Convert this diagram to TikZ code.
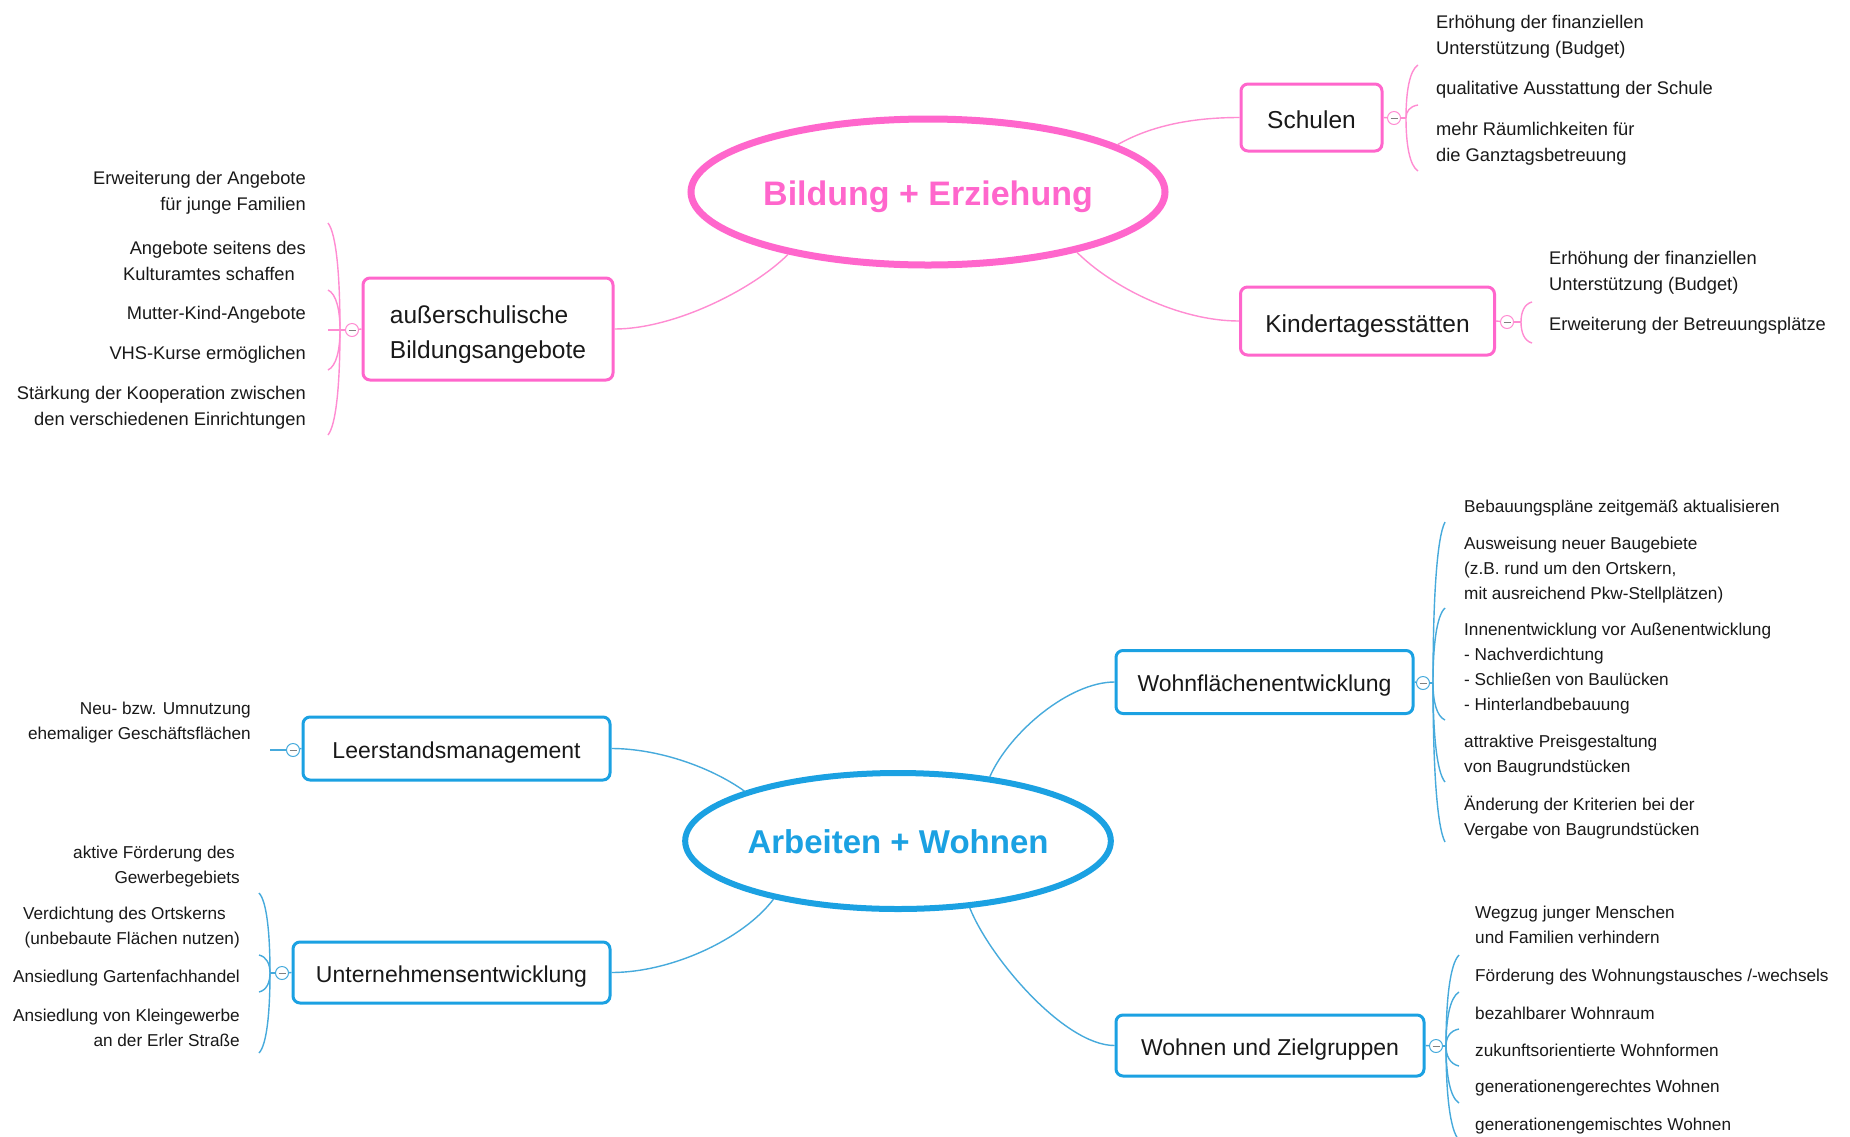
\documentclass[tikz,border=0pt]{standalone}
\usepackage{fontspec}
\setmainfont{Liberation Sans}
\usetikzlibrary{shapes.geometric}
\definecolor{pk}{RGB}{255,102,204}
\definecolor{pkl}{RGB}{255,140,210}
\definecolor{bl}{RGB}{27,161,226}
\definecolor{bll}{RGB}{70,170,220}
\definecolor{txt}{RGB}{25,25,25}
\newcommand\brk[5]{%
  \foreach \e in {#5} {\draw[#1] (#2,#3) .. controls (#2,{#3+0.5*(\e-#3)}) and ({#2+0.3*(#4-#2)},{\e-0.1*(\e-#3)}) .. (#4,\e);}}
\begin{document}
\begin{tikzpicture}[x=1pt,y=-1pt,
 topic/.style={ellipse, draw, line width=7pt, inner sep=0pt, fill=white, text depth=0pt},
 pbox/.style={draw=pk, rounded corners=7pt, line width=3pt, inner sep=0pt, font=\fontsize{24.5}{35}\selectfont, align=left, fill=white, text=txt},
 pbox1/.style={pbox, text height=22.4pt, text depth=0pt},
 bbox/.style={draw=bl, rounded corners=7pt, line width=3pt, inner sep=0pt, font=\fontsize{23}{31}\selectfont, align=left, fill=white, text=txt, text height=19.5pt, text depth=0pt},
 ptxt/.style={inner sep=0pt, font=\fontsize{18.3}{26}\selectfont, text=txt, yshift=-2.5pt},
 btxt/.style={inner sep=0pt, font=\fontsize{17.2}{25}\selectfont, text=txt, yshift=-2.8pt},
 pcon/.style={draw=pkl, line width=1.4pt},
 bcon/.style={draw=bll, line width=1.4pt},
 mcirc/.style={circle, draw=#1, line width=1pt, fill=white, minimum size=13pt, inner sep=0pt,
   path picture={\draw[gray, line width=1pt] ([xshift=-3.5pt]path picture bounding box.center) -- ([xshift=3.5pt]path picture bounding box.center);}},
]
\fill[white] (0,0) rectangle (1850,1136);
\useasboundingbox (0,0) rectangle (1850,1136);

% ---------- Bildung + Erziehung ----------
\node[topic, draw=pk, text=pk, minimum width=474pt, minimum height=146pt, text height=26pt, font=\fontsize{34}{40}\selectfont\bfseries] (pe) at (928,192) {Bildung + Erziehung};
\node[pbox1, minimum width=141pt, minimum height=67pt] (schulen) at (1311.5,117.5) {Schulen};
\node[pbox1, minimum width=254pt, minimum height=68pt] (kita) at (1367.5,321) {Kindertagesstätten};
\node[pbox, minimum width=250pt, minimum height=102pt] (ausser) at (488,329) {\rule{0pt}{30pt}außerschulische\\Bildungsangebote};

\draw[pcon] (pe.14) .. controls +(35,-20) and +(-45,0) .. (schulen.west);
\draw[pcon] (pe.-22) .. controls +(35,35) and +(-60,0) .. (kita.west);
\draw[pcon] (pe.204) .. controls +(-35,35) and +(60,0) .. (ausser.east);

% Schulen leaves
\node[mcirc=pkl] (m1) at (1394,118) {};
\coordinate (h1) at (1406,118);
\draw[pcon] (schulen.east) -- (m1);
\draw[pcon] (m1) -- (h1);
\brk{pcon}{1406}{118}{1418}{65,105,171}
\node[ptxt, anchor=west, align=left] (s1) at (1436,34) {Erhöhung der finanziellen\\Unterstützung (Budget)};
\node[ptxt, anchor=west, align=left] (s2) at (1436,87) {qualitative Ausstattung der Schule};
\node[ptxt, anchor=west, align=left] (s3) at (1436,141) {mehr Räumlichkeiten für\\die Ganztagsbetreuung};

% Kita leaves
\node[mcirc=pkl] (m2) at (1507,322) {};
\coordinate (h2) at (1521,322);
\draw[pcon] (kita.east) -- (m2);
\draw[pcon] (m2) -- (h2);
\brk{pcon}{1521}{322}{1532}{302,343}
\node[ptxt, anchor=west, align=left] (k1) at (1549,270.5) {Erhöhung der finanziellen\\Unterstützung (Budget)};
\node[ptxt, anchor=west, align=left] (k2) at (1549,323) {Erweiterung der Betreuungsplätze};

% außerschulische leaves
\node[mcirc=pkl] (m3) at (352,330) {};
\coordinate (h3) at (340,330);
\draw[pcon] (ausser.west) -- (m3);
\draw[pcon] (m3) -- (h3);
\brk{pcon}{340}{330}{328}{223,290,330,370,435}
\node[ptxt, anchor=east, align=right] (a1) at (306,190.5) {Erweiterung der Angebote\\für junge Familien};
\node[ptxt, anchor=east, align=right] (a2) at (306,258) {Angebote seitens des\\Kulturamtes schaffen\hspace*{11pt}};
\node[ptxt, anchor=east, align=right] (a3) at (306,312) {Mutter-Kind-Angebote};
\node[ptxt, anchor=east, align=right] (a4) at (306,352) {VHS-Kurse ermöglichen};
\node[ptxt, anchor=east, align=right] (a5) at (306,405.5) {Stärkung der Kooperation zwischen\\den verschiedenen Einrichtungen};

% ---------- Arbeiten + Wohnen ----------
\node[topic, draw=bl, text=bl, line width=6pt, minimum width=424pt, minimum height=136pt, text height=25pt, font=\fontsize{33}{40}\selectfont\bfseries] (aw) at (898,841) {Arbeiten + Wohnen};
\node[bbox, minimum width=297pt, minimum height=63pt] (wohnfl) at (1264.5,682) {Wohnflächenentwicklung};
\node[bbox, minimum width=308pt, minimum height=61pt] (wohnen) at (1270,1045.5) {Wohnen und Zielgruppen};
\node[bbox, minimum width=307pt, minimum height=63pt] (leer) at (456.5,748.5) {Leerstandsmanagement};
\node[bbox, minimum width=317pt, minimum height=61pt] (untern) at (451.5,972.5) {Unternehmensentwicklung};

\draw[bcon] (aw.35) .. controls +(20,-45) and +(-45,0) .. (wohnfl.west);
\draw[bcon] (aw.-43) .. controls +(20,50) and +(-50,0) .. (wohnen.west);
\draw[bcon] (aw.162) .. controls +(-35,-25) and +(45,0) .. (leer.east);
\draw[bcon] (aw.205) .. controls +(-30,40) and +(60,0) .. (untern.east);

% Wohnflächenentwicklung leaves
\node[mcirc=bll] (m4) at (1423,683) {};
\coordinate (h4) at (1433,683);
\draw[bcon] (wohnfl.east) -- (m4);
\draw[bcon] (m4) -- (h4);
\brk{bcon}{1433}{683}{1445}{522,608,720,782,842}
\node[btxt, anchor=west, align=left] (w1) at (1464,505) {Bebauungspläne zeitgemäß aktualisieren};
\node[btxt, anchor=west, align=left] (w2) at (1464,567.5) {Ausweisung neuer Baugebiete\\(z.B. rund um den Ortskern,\\mit ausreichend Pkw-Stellplätzen)};
\node[btxt, anchor=west, align=left] (w3) at (1464,666) {Innenentwicklung vor Außenentwicklung\\- Nachverdichtung\\- Schließen von Baulücken\\- Hinterlandbebauung};
\node[btxt, anchor=west, align=left] (w4) at (1464,752.5) {attraktive Preisgestaltung\\von Baugrundstücken};
\node[btxt, anchor=west, align=left] (w5) at (1464,814.5) {Änderung der Kriterien bei der\\Vergabe von Baugrundstücken};

% Wohnen und Zielgruppen leaves
\node[mcirc=bll] (m5) at (1436,1046) {};
\coordinate (h5) at (1446,1046);
\draw[bcon] (wohnen.east) -- (m5);
\draw[bcon] (m5) -- (h5);
\brk{bcon}{1446}{1046}{1459}{955,992,1029,1066,1103,1140}
\node[btxt, anchor=west, align=left] (z1) at (1475,922.5) {Wegzug junger Menschen\\und Familien verhindern};
\node[btxt, anchor=west, align=left] (z2) at (1475,974) {Förderung des Wohnungstausches /-wechsels};
\node[btxt, anchor=west, align=left] (z3) at (1475,1011) {bezahlbarer Wohnraum};
\node[btxt, anchor=west, align=left] (z4) at (1475,1048) {zukunftsorientierte Wohnformen};
\node[btxt, anchor=west, align=left] (z5) at (1475,1085) {generationengerechtes Wohnen};
\node[btxt, anchor=west, align=left] (z6) at (1475,1123) {generationengemischtes Wohnen};

% Leerstandsmanagement leaf
\node[mcirc=bll] (m6) at (293,750) {};
\coordinate (h6) at (270,750);
\draw[bcon] (leer.west) -- (m6);
\draw[bcon] (m6) -- (h6);
\node[btxt, anchor=east, align=right] (l1) at (251,720) {Neu- bzw. Umnutzung\\ehemaliger Geschäftsflächen};

% Unternehmensentwicklung leaves
\node[mcirc=bll] (m7) at (282,973) {};
\coordinate (h7) at (270,973);
\draw[bcon] (untern.west) -- (m7);
\draw[bcon] (m7) -- (h7);
\brk{bcon}{270}{973}{259}{893,955,992,1053}
\node[btxt, anchor=east, align=right] (u1) at (240,863.5) {aktive Förderung des\hspace*{5pt}\\Gewerbegebiets};
\node[btxt, anchor=east, align=right] (u2) at (240,925) {Verdichtung des Ortskerns\hspace*{14pt}\\(unbebaute Flächen nutzen)};
\node[btxt, anchor=east, align=right] (u3) at (240,975) {Ansiedlung Gartenfachhandel};
\node[btxt, anchor=east, align=right] (u4) at (240,1025) {Ansiedlung von Kleingewerbe\\an der Erler Straße};
\end{tikzpicture}
\end{document}
